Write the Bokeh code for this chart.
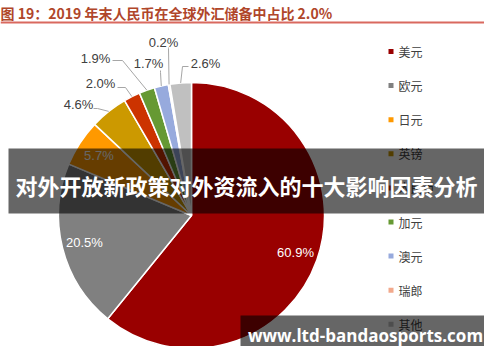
import numpy as np
from bokeh.plotting import figure
from bokeh.models import Range1d, ColumnDataSource
from bokeh.core.properties import value
from bokeh.embed import file_html
from bokeh.resources import INLINE

# ---------------- data ----------------
categories = ["美元", "欧元", "日元", "英镑", "人民币", "加元", "澳元", "瑞郎", "其他"]
shares = [60.9, 20.5, 5.7, 4.6, 2.0, 1.9, 1.7, 0.2, 2.6]
colors = ["#990000", "#808080", "#FF9900", "#CC9900", "#CC3300",
          "#669933", "#97AADD", "#F2A98C", "#C0C0C0"]
title_text = "图 19：2019 年末人民币在全球外汇储备中占比 2.0%"
banner_text = "对外开放新政策对外资流入的十大影响因素分析"
watermark_text = "www.ltd-bandaosports.com"

# ---------------- layout (picture pixels) ----------------
PAGE_H = 362
def Y(py):
    return PAGE_H - py

CX, CY, R = 191, 215, 133
inside = [True, True, True, False, False, False, False, False, False]
# outside labels: label centre, elbow, line end (picture pixels)
outside_layout = {
    3: ((78, 104), (97, 108), (93, 108)),
    4: ((100, 83), (125, 87), (117, 87)),
    5: ((95, 58), (122, 60), (112, 60)),
    6: ((148, 63), (160, 72), (160, 70)),
    7: ((163, 42), (168, 48), (168, 47)),
    8: ((205, 63), (182, 66), (188, 66)),
}

p = figure(width=484, height=346, output_backend="svg", toolbar_location=None,
           x_range=Range1d(0, 484), y_range=Range1d(Y(346), Y(0)), min_border=0)
p.axis.visible = False
p.grid.visible = False
p.outline_line_color = None
p.background_fill_color = "white"

# ---------------- pie ----------------
vals = np.array(shares, dtype=float)
frac = vals / vals.sum()
cum = np.concatenate([[0.0], np.cumsum(frac)])
theta0 = cum[:-1] * 2 * np.pi      # clockwise from top
theta1 = cum[1:] * 2 * np.pi
mid = (theta0 + theta1) / 2
src = ColumnDataSource(dict(
    start=np.pi / 2 - theta0, end=np.pi / 2 - theta1,
    color=colors, cat=categories))
p.wedge(x=CX, y=Y(CY), radius=R, start_angle="start", end_angle="end",
        direction="clock", fill_color="color", line_color="white",
        line_width=1.5, source=src)

labels = [f"{v:.1f}%" for v in shares]

# inside labels
ix, iy, it = [], [], []
for i, ins in enumerate(inside):
    if ins:
        rr = 0.83 * R
        ix.append(CX + rr * np.sin(mid[i]))
        iy.append(Y(CY) + rr * np.cos(mid[i]))
        it.append(labels[i])
p.text(x=ix, y=iy, text=it, text_color="white", text_font=value("Liberation Sans"),
       text_font_size="13px", text_align="center", text_baseline="middle")

# outside labels with leader lines
lxs, lys, ox, oy, ot = [], [], [], [], []
for i, (lab, elbow, end) in outside_layout.items():
    rx = CX + R * np.sin(mid[i])
    ry = Y(CY) + R * np.cos(mid[i])
    lxs.append([rx, elbow[0], end[0]])
    lys.append([ry, Y(elbow[1]), Y(end[1])])
    ox.append(lab[0]); oy.append(Y(lab[1])); ot.append(labels[i])
p.multi_line(xs=lxs, ys=lys, line_color="#A6A6A6", line_width=1)
p.text(x=ox, y=oy, text=ot, text_color="#404040", text_font=value("Liberation Sans"),
       text_font_size="13px", text_align="center", text_baseline="middle")

# ---------------- legend ----------------
leg_y = [Y(51 + k * 34.1) for k in range(len(categories))]
p.rect(x=[390.5] * len(categories), y=leg_y, width=5, height=5,
       fill_color=colors, line_color=None)
p.text(x=[398] * len(categories), y=leg_y, text=categories, text_color="#404040",
       text_font=value("Noto Sans CJK SC"), text_font_size="12px",
       text_align="left", text_baseline="middle")

# ---------------- title ----------------
p.text(x=[0], y=[Y(12.5)], text=[title_text], text_color="#B0462A",
       text_font=value("Noto Sans CJK SC"), text_font_style="bold",
       text_font_size="14px", text_align="left", text_baseline="middle")
p.segment(x0=[0], y0=[Y(22)], x1=[484], y1=[Y(22)], line_color="#D9695F", line_width=1.8)

# ---------------- overlay banners ----------------
p.quad(left=[8], right=[484], top=[Y(148)], bottom=[Y(213)],
       fill_color="black", fill_alpha=0.6, line_color=None)
p.text(x=[246], y=[Y(184)], text=[banner_text], text_color="white",
       text_font=value("Noto Sans CJK SC"), text_font_style="bold",
       text_font_size="22px", text_align="center", text_baseline="middle")
p.quad(left=[240], right=[484], top=[Y(315)], bottom=[Y(346)],
       fill_color="black", fill_alpha=0.6, line_color=None)
p.text(x=[365], y=[Y(335)], text=[watermark_text], text_color="white",
       text_font=value("Open Sans"), text_font_style="bold",
       text_font_size="17px", text_align="center", text_baseline="middle")

open("out.html", "w").write(file_html(p, INLINE))
